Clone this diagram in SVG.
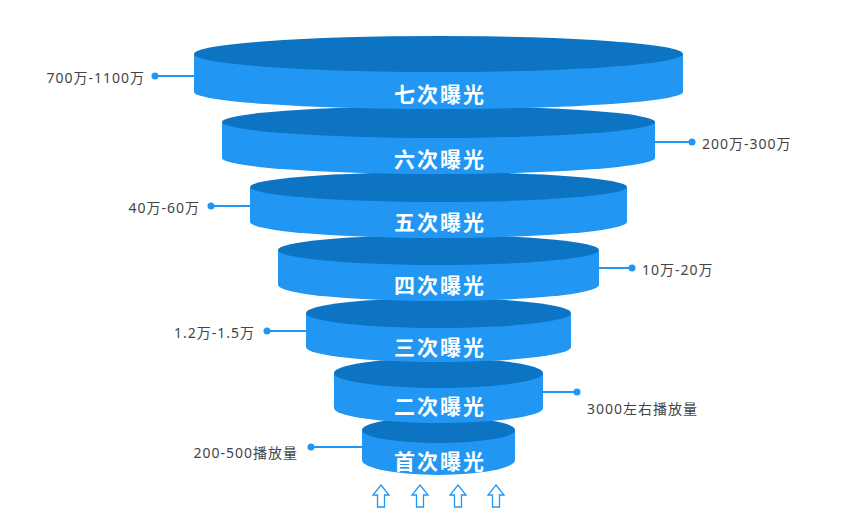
<svg xmlns="http://www.w3.org/2000/svg" width="861" height="528" viewBox="0 0 861 528">
<style>
.side{fill:#2196f3}
.top{fill:#0d74c4}
.t{fill:#fff;font-family:"Noto Sans CJK SC",sans-serif;font-weight:bold;font-size:21px;letter-spacing:2px;text-anchor:middle}
.l{fill:#444;font-family:"Noto Sans","Noto Sans CJK SC",sans-serif;font-size:14px;letter-spacing:1px}
.c{stroke:#2196f3;stroke-width:2;fill:none}
.d{fill:#2196f3}
.a{fill:#fff;stroke:#2196f3;stroke-width:1.3}
</style>
<defs>
<path id="arr" class="a" d="M0,-11 L8,-1 L3.5,-1 L3.5,11 L-3.5,11 L-3.5,-1 L-8,-1 Z"/>
</defs>
<g id="connectors">
<path class="c" d="M194,76 H155"/><circle class="d" cx="155" cy="76" r="3.5"/>
<path class="c" d="M655,142 H692"/><circle class="d" cx="692" cy="142" r="3.5"/>
<path class="c" d="M250,206 H211"/><circle class="d" cx="211" cy="206" r="3.5"/>
<path class="c" d="M599,268 H632"/><circle class="d" cx="632" cy="268" r="3.5"/>
<path class="c" d="M306,331 H267"/><circle class="d" cx="267" cy="331" r="3.5"/>
<path class="c" d="M543,392 H577"/><circle class="d" cx="577" cy="392" r="3.5"/>
<path class="c" d="M362,447 H311"/><circle class="d" cx="311" cy="447" r="3.5"/>
</g>
<g id="layer1"><path class="side" d="M362,430 V460 A76.5,15 0 0 0 515,460 V430 Z"/><ellipse class="top" cx="438.5" cy="430" rx="76.5" ry="13"/><text class="t" x="440" y="469">首次曝光</text></g>
<g id="layer2"><path class="side" d="M334,373 V408 A104.5,15 0 0 0 543,408 V373 Z"/><ellipse class="top" cx="438.5" cy="373" rx="104.5" ry="15"/><text class="t" x="440" y="414">二次曝光</text></g>
<g id="layer3"><path class="side" d="M306,313 V347 A132.5,15 0 0 0 571,347 V313 Z"/><ellipse class="top" cx="438.5" cy="313" rx="132.5" ry="15"/><text class="t" x="440" y="355">三次曝光</text></g>
<g id="layer4"><path class="side" d="M278,250 V285 A160.5,16 0 0 0 599,285 V250 Z"/><ellipse class="top" cx="438.5" cy="250" rx="160.5" ry="15"/><text class="t" x="440" y="293">四次曝光</text></g>
<g id="layer5"><path class="side" d="M250,187 V222 A188.5,16 0 0 0 627,222 V187 Z"/><ellipse class="top" cx="438.5" cy="187" rx="188.5" ry="15"/><text class="t" x="440" y="230">五次曝光</text></g>
<g id="layer6"><path class="side" d="M222,122 V158 A216.5,16 0 0 0 655,158 V122 Z"/><ellipse class="top" cx="438.5" cy="122" rx="216.5" ry="16"/><text class="t" x="440" y="167">六次曝光</text></g>
<g id="layer7"><path class="side" d="M194,54 V92 A244.5,17 0 0 0 683,92 V54 Z"/><ellipse class="top" cx="438.5" cy="54" rx="244.5" ry="18"/><text class="t" x="440" y="102">七次曝光</text></g>
<g id="labels">
<text class="l" x="145" y="83" text-anchor="end">700万-1100万</text>
<text class="l" x="702" y="149">200万-300万</text>
<text class="l" x="200" y="213" text-anchor="end">40万-60万</text>
<text class="l" x="642" y="275">10万-20万</text>
<text class="l" x="255" y="338" text-anchor="end">1.2万-1.5万</text>
<text class="l" x="587" y="414">3000左右播放量</text>
<text class="l" x="298" y="458" text-anchor="end">200-500播放量</text>
</g>
<g id="arrows">
<use href="#arr" x="381" y="496"/><use href="#arr" x="420" y="496"/><use href="#arr" x="458" y="496"/><use href="#arr" x="496" y="496"/>
</g>
</svg>
